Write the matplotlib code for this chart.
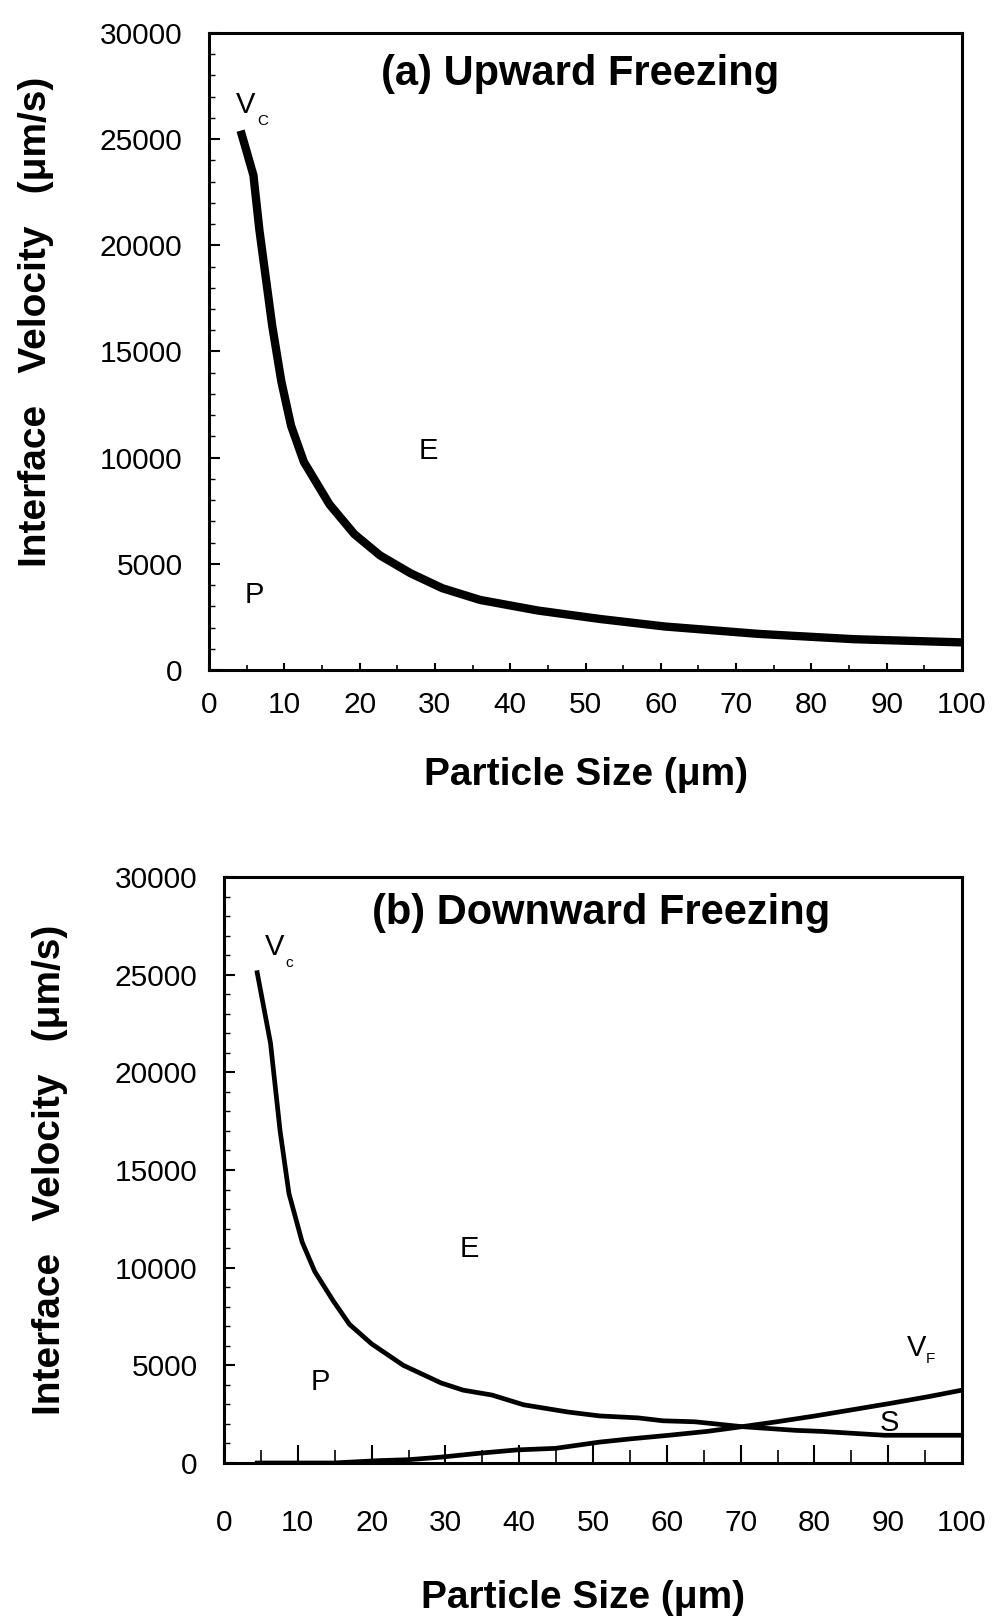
import matplotlib
matplotlib.use("Agg")
import matplotlib.pyplot as plt
from matplotlib.ticker import MultipleLocator

plt.rcParams['font.family'] = ['Liberation Sans', 'DejaVu Sans']

# (a) upward freezing, critical velocity curve
up_size = [4.2, 5.9, 6.7, 8.4, 9.6, 10.9, 12.6, 16.0, 19.3, 22.7, 26.8, 31.0,
           36.0, 43.7, 52.0, 60.5, 73.0, 85.7, 100.0]
up_vc = [25400, 23300, 20700, 16200, 13600, 11500, 9800, 7800, 6400, 5400, 4550,
         3850, 3300, 2800, 2400, 2050, 1700, 1450, 1300]

# (b) downward freezing, critical velocity curve
down_size = [4.5, 6.3, 7.6, 8.8, 10.6, 12.3, 14.8, 17.0, 20.0, 24.3, 29.4, 32.4,
             36.3, 40.6, 46.6, 50.9, 56.1, 59.5, 63.8, 70.2, 77.5, 80.9, 89.5, 100.0]
down_vc = [25100, 21500, 17000, 13800, 11300, 9800, 8300, 7100, 6100, 5000, 4100,
           3730, 3480, 2980, 2610, 2410, 2310, 2160, 2110, 1860, 1670, 1620, 1420, 1420]

# (b) downward freezing, V_F curve
vf_size = [4.5, 9.7, 14.8, 20.9, 25.0, 29.4, 34.6, 39.7, 44.9, 50.9, 55.2, 60.3,
           65.5, 70.2, 74.9, 80.1, 85.2, 90.4, 95.5, 100.0]
vf_vel = [0, 0, 0, 120, 170, 300, 500, 670, 750, 1070, 1240, 1420, 1620, 1860,
          2110, 2410, 2730, 3060, 3400, 3730]

x_ticks = list(range(0, 101, 10))
y_ticks = list(range(0, 30001, 5000))

W, H = 992, 1617
fig = plt.figure(figsize=(W / 100, H / 100), dpi=100)


def rect(l, r, t, b):
    return [l / W, 1 - b / H, (r - l) / W, (b - t) / H]


def setup(ax, xpad, xlen, lw):
    ax.set_xlim(0, 100)
    ax.set_ylim(0, 30000)
    ax.set_xticks(x_ticks)
    ax.set_yticks(y_ticks)
    ax.xaxis.set_minor_locator(MultipleLocator(5))
    ax.yaxis.set_minor_locator(MultipleLocator(1000))
    ax.tick_params(axis='x', which='major', direction='in', length=xlen, width=1.5,
                   pad=xpad, labelsize=21.5)
    ax.tick_params(axis='x', which='minor', direction='in', length=xlen * 0.7, width=1.2)
    ax.tick_params(axis='y', which='major', direction='in', length=8, width=1.5,
                   pad=19, labelsize=21.5)
    ax.tick_params(axis='y', which='minor', direction='in', length=4, width=1)
    for s in ax.spines.values():
        s.set_linewidth(lw)


ylab = 'Interface   Velocity   (μm/s)'

# ---- panel (a)
ax1 = fig.add_axes(rect(209, 962, 33, 670))
setup(ax1, 15, 5, 2.2)
ax1.plot(up_size, up_vc, color='black', lw=6, solid_capstyle='butt',
         solid_joinstyle='round')
ax1.text(49.3, 28070, '(a) Upward Freezing', ha='center', va='center',
         fontsize=30, fontweight='bold')
ax1.text(4.8, 26610, 'V', ha='center', va='center', fontsize=21)
ax1.text(7.2, 25860, 'C', ha='center', va='center', fontsize=11)
ax1.text(29.1, 10310, 'E', ha='center', va='center', fontsize=21)
ax1.text(6.0, 3530, 'P', ha='center', va='center', fontsize=21)
fig.text(586 / W, 1 - 775 / H, 'Particle Size (μm)', ha='center', va='center',
         fontsize=28, fontweight='bold')
fig.text(36 / W, 1 - 322 / H, ylab, ha='center',
         va='center', rotation=90, fontsize=28, fontweight='bold')

# ---- panel (b)
ax2 = fig.add_axes(rect(224, 962, 877, 1463))
setup(ax2, 33, 13, 2.2)
ax2.plot(down_size, down_vc, color='black', lw=3.4, solid_joinstyle='round')
ax2.plot(vf_size, vf_vel, color='black', lw=3.4, solid_joinstyle='round')
ax2.text(51.1, 28160, '(b) Downward Freezing', ha='center', va='center',
         fontsize=30, fontweight='bold')
ax2.text(6.9, 26420, 'V', ha='center', va='center', fontsize=21)
ax2.text(8.8, 25600, 'c', ha='center', va='center', fontsize=11)
ax2.text(33.2, 10960, 'E', ha='center', va='center', fontsize=21)
ax2.text(13.0, 4150, 'P', ha='center', va='center', fontsize=21)
ax2.text(93.8, 5890, 'V', ha='center', va='center', fontsize=21)
ax2.text(95.7, 5320, 'F', ha='center', va='center', fontsize=11)
ax2.text(90.1, 2050, 'S', ha='center', va='center', fontsize=21)
fig.text(583 / W, 1 - 1598 / H, 'Particle Size (μm)', ha='center', va='center',
         fontsize=28, fontweight='bold')
fig.text(50 / W, 1 - 1170 / H, ylab, ha='center',
         va='center', rotation=90, fontsize=28, fontweight='bold')

fig.savefig('out.png', dpi=100)
